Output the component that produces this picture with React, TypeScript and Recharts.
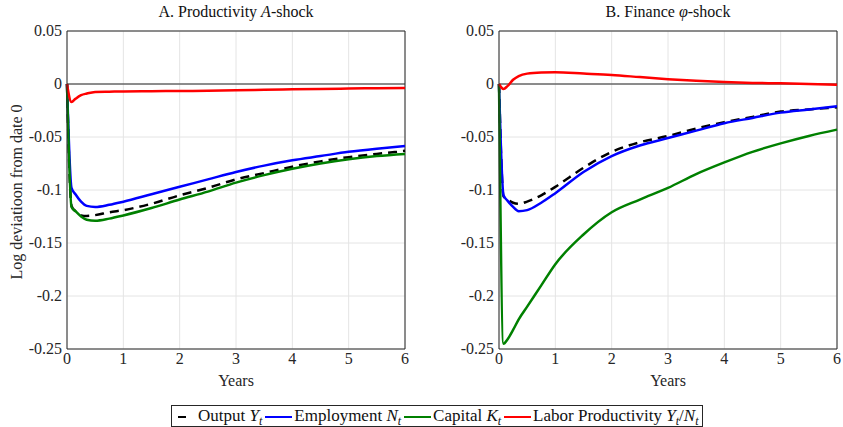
import React from "react";
import {
  LineChart,
  Line,
  XAxis,
  YAxis,
  CartesianGrid,
  ReferenceLine,
} from "recharts";

// years after the shock
const years = [0, 0.08, 0.15, 0.25, 0.35, 0.5, 0.75, 1, 1.5, 2, 2.5, 3, 3.5, 4, 4.5, 5, 5.5, 6];

// Panel A: productivity shock
const outputA = [0, -0.115, -0.12, -0.124, -0.1245, -0.1237, -0.121, -0.119, -0.113, -0.105, -0.098, -0.09, -0.084, -0.078, -0.073, -0.069, -0.066, -0.063];
const employmentA = [0, -0.098, -0.104, -0.111, -0.115, -0.116, -0.114, -0.111, -0.104, -0.097, -0.09, -0.083, -0.077, -0.072, -0.068, -0.064, -0.061, -0.0585];
const capitalA = [0, -0.116, -0.12, -0.125, -0.128, -0.129, -0.127, -0.124, -0.117, -0.109, -0.1015, -0.093, -0.086, -0.08, -0.075, -0.071, -0.068, -0.066];
const laborProdA = [0, -0.017, -0.014, -0.0105, -0.009, -0.0075, -0.0072, -0.007, -0.0068, -0.0066, -0.0064, -0.006, -0.0055, -0.005, -0.0046, -0.0043, -0.004, -0.0038];

// Panel B: finance shock
const outputB = [0, -0.106, -0.109, -0.112, -0.113, -0.111, -0.105, -0.097, -0.079, -0.064, -0.055, -0.049, -0.042, -0.036, -0.031, -0.026, -0.024, -0.022];
const employmentB = [0, -0.105, -0.11, -0.116, -0.12, -0.119, -0.112, -0.103, -0.083, -0.068, -0.058, -0.051, -0.044, -0.037, -0.032, -0.027, -0.024, -0.021];
const capitalB = [0, -0.245, -0.241, -0.232, -0.222, -0.21, -0.19, -0.17, -0.142, -0.121, -0.109, -0.098, -0.085, -0.074, -0.064, -0.056, -0.049, -0.043];
const laborProdB = [0, -0.0047, -0.002, 0.004, 0.0075, 0.0098, 0.0108, 0.011, 0.0098, 0.0085, 0.0065, 0.0045, 0.003, 0.0018, 0.001, 0.0006, 0, -0.0006];

const xTicks = [0, 1, 2, 3, 4, 5, 6];
const yTicks = [0.05, 0, -0.05, -0.1, -0.15, -0.2, -0.25];

const FONT = "Liberation Serif";
const AXIS = "#262626";

function build(out: number[], emp: number[], cap: number[], lp: number[]) {
  return years.map((t, i) => ({ t, out: out[i], emp: emp[i], cap: cap[i], lp: lp[i] }));
}

const dataA = build(outputA, employmentA, capitalA, laborProdA);
const dataB = build(outputB, employmentB, capitalB, laborProdB);

const XTick = ({ x, y, payload }: any) => (
  <text x={x} y={y + 15} textAnchor="middle" fill={AXIS} style={{ fontFamily: FONT, fontSize: 16 }}>
    {payload.value}
  </text>
);

const YTick = ({ x, y, payload }: any) => (
  <text x={x} y={y + 5} textAnchor="end" fill={AXIS} style={{ fontFamily: FONT, fontSize: 16 }}>
    {payload.value === 0 ? "0" : String(payload.value)}
  </text>
);

function Panel({
  data,
  width,
  yWidth,
  right,
}: {
  data: any[];
  width: number;
  yWidth: number;
  right: number;
}) {
  return (
    <LineChart
      width={width}
      height={400}
      data={data}
      margin={{ top: 31, right, bottom: 0, left: 0 }}
    >
      <CartesianGrid stroke="#e4e4e4" strokeWidth={1} />
      <XAxis
        dataKey="t"
        type="number"
        domain={[0, 6]}
        ticks={xTicks}
        tick={XTick}
        tickLine={false}
        tickSize={0}
        tickMargin={0}
        axisLine={{ stroke: AXIS }}
        height={51}
      />
      <YAxis
        type="number"
        domain={[-0.25, 0.05]}
        ticks={yTicks}
        tick={YTick}
        tickLine={false}
        tickSize={3}
        tickMargin={2}
        axisLine={{ stroke: AXIS }}
        width={yWidth}
      />
      <ReferenceLine y={0.05} stroke={AXIS} strokeWidth={1} />
      <ReferenceLine x={6} stroke={AXIS} strokeWidth={1} />
      <ReferenceLine y={0} stroke={AXIS} strokeWidth={1.2} />
      <Line dataKey="out" type="monotone" stroke="#000000" strokeWidth={2.5} strokeDasharray="9 6" dot={false} isAnimationActive={false} />
      <Line dataKey="emp" type="monotone" stroke="#0000ff" strokeWidth={2.5} dot={false} isAnimationActive={false} />
      <Line dataKey="cap" type="monotone" stroke="#008000" strokeWidth={2.5} dot={false} isAnimationActive={false} />
      <Line dataKey="lp" type="monotone" stroke="#ff0000" strokeWidth={2.5} dot={false} isAnimationActive={false} />
    </LineChart>
  );
}

function Swatch({ color, w }: { color: string; w: number }) {
  return (
    <span
      style={{
        display: "inline-block",
        width: w,
        height: 0,
        borderTop: `2.5px solid ${color}`,
        verticalAlign: "middle",
        margin: "0 2px 0 3px",
      }}
    />
  );
}

const Sub = () => (
  <sub style={{ fontSize: 12, lineHeight: 0 }}>
    <i>t</i>
  </sub>
);

export default function App() {
  return (
    <div
      style={{
        position: "absolute",
        left: 0,
        top: 0,
        width: 843,
        height: 427,
        background: "#fff",
        fontFamily: FONT,
        color: "#111",
        overflow: "hidden",
      }}
    >
      <div style={{ position: "absolute", left: 0, top: 0 }}>
        <Panel data={dataA} width={415} yWidth={67} right={10} />
      </div>
      <div style={{ position: "absolute", left: 430, top: 0 }}>
        <Panel data={dataB} width={413} yWidth={69} right={6} />
      </div>

      <div style={{ position: "absolute", left: 67, width: 338, top: 3, textAlign: "center", fontSize: 16 }}>
        A. Productivity <i>A</i>-shock
      </div>
      <div style={{ position: "absolute", left: 499, width: 338, top: 3, textAlign: "center", fontSize: 16 }}>
        B. Finance <i>φ</i>-shock
      </div>

      <div style={{ position: "absolute", left: 67, width: 338, top: 372, textAlign: "center", fontSize: 16, color: AXIS }}>
        Years
      </div>
      <div style={{ position: "absolute", left: 499, width: 338, top: 372, textAlign: "center", fontSize: 16, color: AXIS }}>
        Years
      </div>

      <div
        style={{
          position: "absolute",
          left: 17,
          top: 192,
          transform: "translate(-50%, -50%) rotate(-90deg)",
          whiteSpace: "nowrap",
          fontSize: 16,
          color: AXIS,
        }}
      >
        Log deviatioon from date 0
      </div>

      <div
        style={{
          position: "absolute",
          left: 171,
          top: 405,
          height: 20,
          border: "1px solid #262626",
          padding: "0 3px",
          whiteSpace: "nowrap",
          fontSize: 17,
          lineHeight: "20px",
          background: "#fff",
        }}
      >
        <Swatch color="#000" w={8} />
        <span style={{ marginLeft: 10 }}>
          Output <i>Y</i>
          <Sub />
        </span>
        <Swatch color="#0000ff" w={27} />
        Employment <i>N</i>
        <Sub />
        <Swatch color="#008000" w={27} />
        Capital <i>K</i>
        <Sub />
        <Swatch color="#ff0000" w={27} />
        Labor Productivity <i>Y</i>
        <Sub />/<i>N</i>
        <Sub />
      </div>
    </div>
  );
}
